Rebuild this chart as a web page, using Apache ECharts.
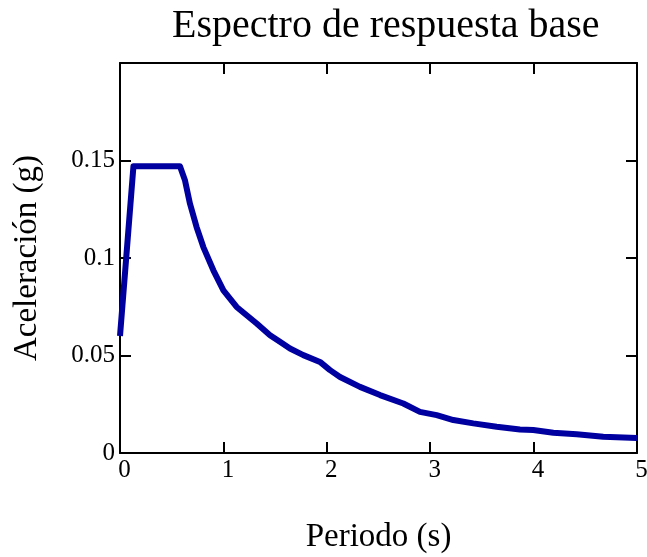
<!DOCTYPE html>
<html>
<head>
<meta charset="utf-8">
<script src="https://cdn.jsdelivr.net/npm/echarts@6/dist/echarts.min.js"></script>
<style>
html,body{margin:0;padding:0;background:#fff;}
#chart{width:647px;height:557px;}
</style>
</head>
<body>
<div id="chart"></div>
<script>
const titleText = 'Espectro de respuesta base';
const xName = 'Periodo (s)';
const yName = 'Aceleración (g)';
const periods = [0, 0.06, 0.13, 0.58, 0.629, 0.677, 0.741, 0.806, 0.903, 1.0, 1.128, 1.322, 1.451, 1.547, 1.644, 1.773, 1.934, 2.031, 2.128, 2.321, 2.515, 2.740, 2.901, 3.063, 3.224, 3.417, 3.643, 3.868, 3.997, 4.191, 4.417, 4.674, 5.0];
const accel   = [0.06, 0.10, 0.147, 0.147, 0.1397, 0.1278, 0.1158, 0.1056, 0.0937, 0.0834, 0.0749, 0.0664, 0.0604, 0.0570, 0.0536, 0.0502, 0.0467, 0.0425, 0.0390, 0.0339, 0.0297, 0.0254, 0.0211, 0.0194, 0.0169, 0.0152, 0.0135, 0.0121, 0.0118, 0.0104, 0.0096, 0.0083, 0.0077];
const yTickLabels = {0: '0', 0.05: '0.05', 0.1: '0.1', 0.15: '0.15'};

const font = 'Liberation Serif';
const chart = echarts.init(document.getElementById('chart'));
const tickCommon = {show: true, inside: true, length: 11, lineStyle: {color: '#000', width: 2}};
const lineCommon = {show: true, onZero: false, lineStyle: {color: '#000', width: 2}};
chart.setOption({
  animation: false,
  title: {
    text: titleText, left: 167, top: 1,
    textStyle: {fontFamily: font, fontSize: 40, fontWeight: 'normal', color: '#000'}
  },
  grid: {left: 120, right: 10, top: 63, bottom: 104, containLabel: false, outerBoundsMode: 'none'},
  xAxis: [{
    type: 'value', min: 0, max: 5, interval: 1, position: 'bottom',
    axisLine: lineCommon, axisTick: tickCommon, splitLine: {show: false},
    axisLabel: {fontFamily: font, fontSize: 25, color: '#000', margin: 5, padding: [0, 0, 0, 9]},
    name: xName, nameLocation: 'middle', nameGap: 68,
    nameTextStyle: {fontFamily: font, fontSize: 33, color: '#000'}
  }, {
    type: 'value', min: 0, max: 5, interval: 1, position: 'top',
    axisLine: lineCommon, axisTick: tickCommon, splitLine: {show: false},
    axisLabel: {show: false}
  }],
  yAxis: [{
    type: 'value', min: 0, max: 0.2, interval: 0.05, position: 'left',
    axisLine: lineCommon, axisTick: tickCommon, splitLine: {show: false},
    axisLabel: {fontFamily: font, fontSize: 25, color: '#000', margin: 5,
      formatter: v => { const k = Math.round(v * 100) / 100; return yTickLabels[k] !== undefined ? yTickLabels[k] : ''; }},
    name: yName, nameLocation: 'middle', nameGap: 76,
    nameTextStyle: {fontFamily: font, fontSize: 33, color: '#000'}
  }, {
    type: 'value', min: 0, max: 0.2, interval: 0.05, position: 'right',
    axisLine: lineCommon, axisTick: tickCommon, splitLine: {show: false},
    axisLabel: {show: false}
  }],
  series: [{
    type: 'line', xAxisIndex: 0, yAxisIndex: 0,
    data: periods.map((t, i) => [t, accel[i]]),
    showSymbol: false, symbol: 'none',
    lineStyle: {color: '#0000a0', width: 6, join: 'round'},
    clip: true
  }]
});
</script>
</body>
</html>
